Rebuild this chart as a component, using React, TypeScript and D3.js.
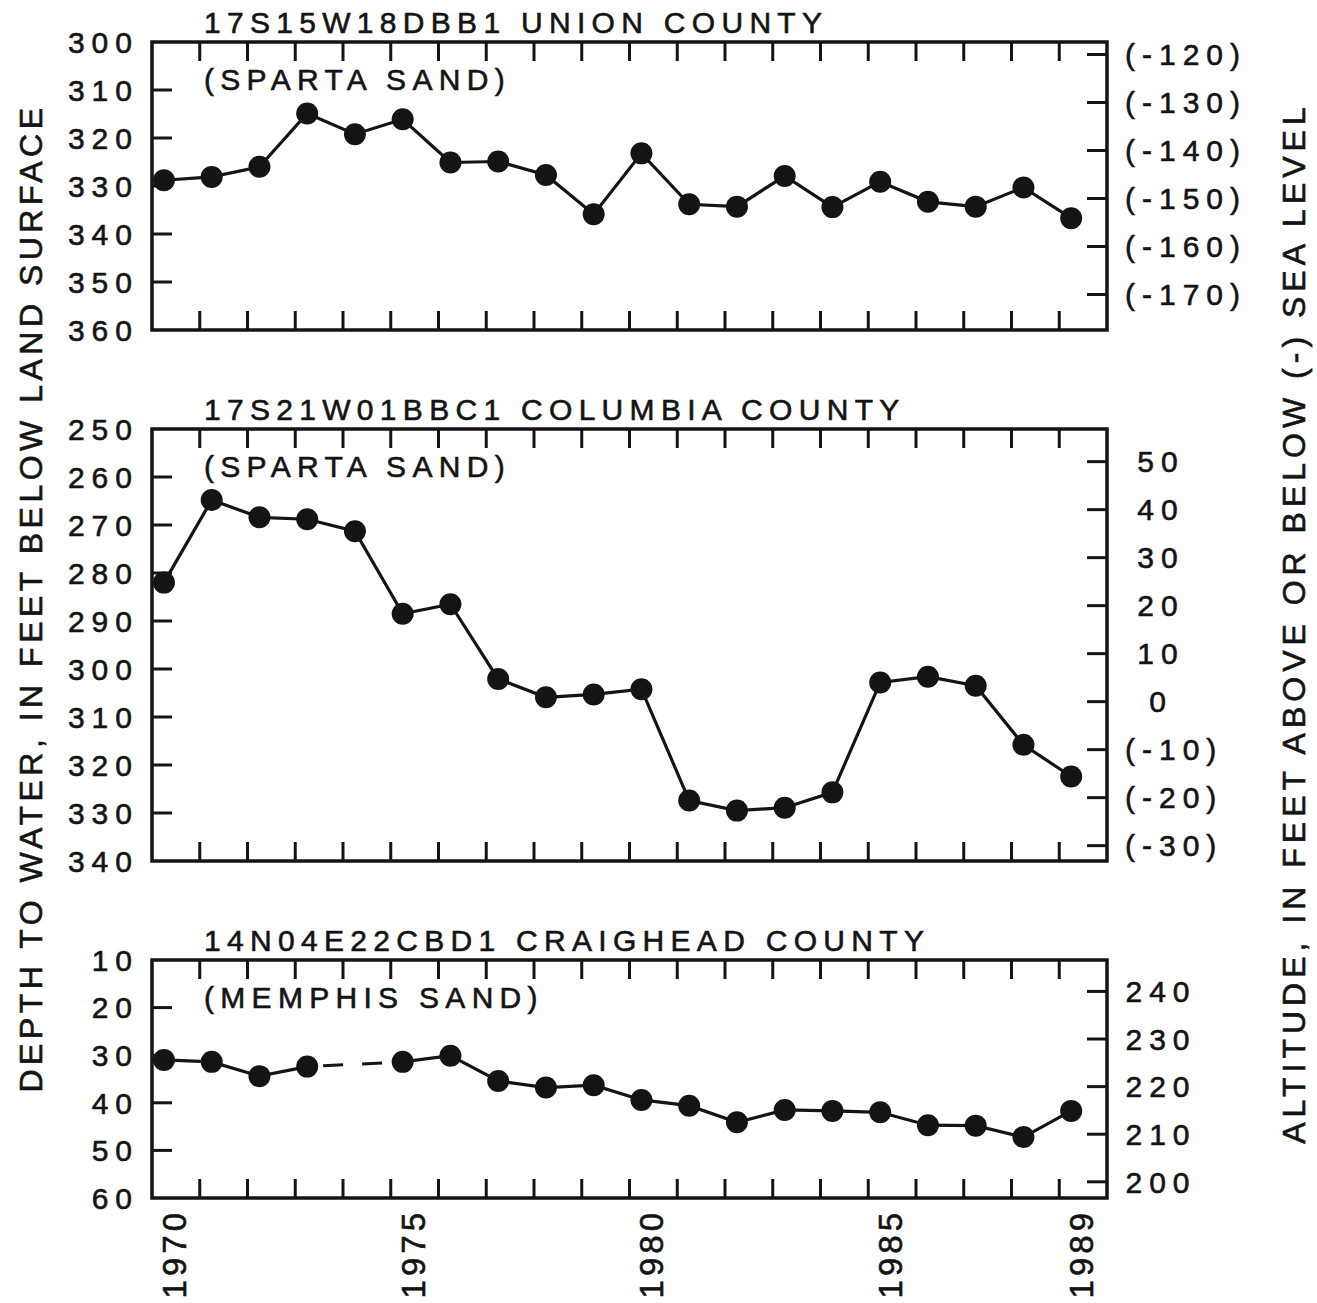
import React from 'react';
import * as d3 from 'd3';

// ---- Data ----
const years = [1970, 1971, 1972, 1973, 1974, 1975, 1976, 1977, 1978, 1979, 1980, 1981, 1982, 1983, 1984, 1985, 1986, 1987, 1988, 1989];
// measurement taken in spring of each year
const measurementOffset = 0.25;

const unionDepth = [328.8, 328.1, 326.0, 314.9, 319.2, 316.1, 325.1, 324.9, 327.7, 335.9, 323.2, 333.8, 334.3, 327.9, 334.4, 329.1, 333.3, 334.3, 330.3, 336.7];
const columbiaDepth = [282.0, 264.8, 268.4, 268.8, 271.3, 288.5, 286.5, 302.1, 305.9, 305.3, 304.2, 327.4, 329.5, 328.9, 325.7, 302.8, 301.6, 303.5, 315.8, 322.4];
const craigheadDepth: (number | null)[] = [31.0, 31.4, 34.4, 32.4, null, 31.4, 30.1, 35.4, 36.8, 36.3, 39.4, 40.6, 44.1, 41.5, 41.7, 42.0, 44.7, 44.8, 47.2, 41.7];

const wellTitles = ['17S15W18DBB1 UNION COUNTY', '17S21W01BBC1 COLUMBIA COUNTY', '14N04E22CBD1 CRAIGHEAD COUNTY'];
const aquifers = ['(SPARTA SAND)', '(SPARTA SAND)', '(MEMPHIS SAND)'];
const depthDomains = [[300, 360], [250, 340], [10, 60]];
const depthTicks = [
  [300, 310, 320, 330, 340, 350, 360],
  [250, 260, 270, 280, 290, 300, 310, 320, 330, 340],
  [10, 20, 30, 40, 50, 60],
];
const landSurfaceAltitude = [182.6, 306.8, 256.6];
const altitudeTicks = [
  [-120, -130, -140, -150, -160, -170],
  [50, 40, 30, 20, 10, 0, -10, -20, -30],
  [240, 230, 220, 210, 200],
];
const yearLabels = [1970, 1975, 1980, 1985, 1989];

const leftAxisTitle = 'DEPTH TO WATER, IN FEET BELOW LAND SURFACE';
const rightAxisTitle = 'ALTITUDE, IN FEET ABOVE OR BELOW (-) SEA LEVEL';

// ---- Layout ----
const W = 1317;
const H = 1303;
const X0 = 152;
const X1 = 1107;
const panelRows = [
  { top: 42, bottom: 330 },
  { top: 429, bottom: 861 },
  { top: 960, bottom: 1198 },
];
const FONT = '"Liberation Sans", Arial, Helvetica, sans-serif';
const INK = '#141414';
const TXT = { fill: INK, stroke: INK, strokeWidth: 0.6, fontFamily: FONT } as const;

const x = d3.scaleLinear().domain([1970, 1990]).range([X0, X1]);
const xTickYears = years.slice(1); // 1971..1989 year boundaries

function fmtAlt(v: number) {
  return v < 0 ? `(${v})` : `${v}`;
}

function Panel({ i }: { i: number }) {
  const row = panelRows[i];
  const [d0, d1] = depthDomains[i];
  const y = d3.scaleLinear().domain([d0, d1]).range([row.top, row.bottom]);
  const lsa = landSurfaceAltitude[i];
  const yAlt = d3.scaleLinear().domain([lsa - d0, lsa - d1]).range([row.top, row.bottom]);
  const series = [unionDepth, columbiaDepth, craigheadDepth][i] as (number | null)[];
  const pts = years.map((yr, k) => ({ yr, v: series[k] }));

  const line = d3
    .line<{ yr: number; v: number | null }>()
    .defined((d) => d.v !== null)
    .x((d) => x(d.yr + measurementOffset))
    .y((d) => y(d.v as number));

  // dashed connectors across missing years
  const gaps: { a: { yr: number; v: number }; b: { yr: number; v: number } }[] = [];
  let last: { yr: number; v: number } | null = null;
  let inGap = false;
  pts.forEach((p) => {
    if (p.v === null) {
      inGap = true;
    } else {
      if (inGap && last) gaps.push({ a: last, b: { yr: p.yr, v: p.v } });
      inGap = false;
      last = { yr: p.yr, v: p.v };
    }
  });

  const tickLen = 19;
  return (
    <g>
      <text x={204} y={row.top - 9} fontSize={30} letterSpacing={6.3} {...TXT}>
        {wellTitles[i]}
      </text>
      <text x={204} y={row.top + 48} fontSize={30} letterSpacing={6.3} {...TXT}>
        {aquifers[i]}
      </text>

      {/* x ticks top & bottom */}
      {xTickYears.map((yr) => (
        <g key={yr}>
          <line x1={x(yr)} x2={x(yr)} y1={row.top} y2={row.top + tickLen} stroke={INK} strokeWidth={3} />
          <line x1={x(yr)} x2={x(yr)} y1={row.bottom} y2={row.bottom - tickLen} stroke={INK} strokeWidth={3} />
        </g>
      ))}

      {/* left depth axis */}
      {depthTicks[i].map((t) => (
        <g key={t}>
          {t !== d0 && t !== d1 && (
            <line x1={X0} x2={X0 + 20} y1={y(t)} y2={y(t)} stroke={INK} strokeWidth={3} />
          )}
          <text x={139} y={y(t)} dy="0.36em" textAnchor="end" fontSize={30} letterSpacing={7} {...TXT}>
            {t}
          </text>
        </g>
      ))}

      {/* right altitude axis */}
      {altitudeTicks[i].map((t) => {
        const label = fmtAlt(t);
        const paren = label.startsWith('(');
        return (
          <g key={t}>
            <line x1={X1} x2={X1 - 20} y1={yAlt(t)} y2={yAlt(t)} stroke={INK} strokeWidth={3} />
            <text
              x={paren ? 1125 : 1161}
              y={yAlt(t)}
              dy="0.36em"
              textAnchor={paren ? 'start' : 'middle'}
              fontSize={30}
              letterSpacing={7}
              {...TXT}
            >
              {label}
            </text>
          </g>
        );
      })}

      {/* frame */}
      <rect x={X0} y={row.top} width={X1 - X0} height={row.bottom - row.top} fill="none" stroke={INK} strokeWidth={3.5} />

      {/* data */}
      {gaps.map((g, k) => (
        <line
          key={k}
          x1={x(g.a.yr + measurementOffset)}
          y1={y(g.a.v)}
          x2={x(g.b.yr + measurementOffset)}
          y2={y(g.b.v)}
          stroke={INK}
          strokeWidth={3}
          strokeDasharray="20 19"
          strokeDashoffset={23}
        />
      ))}
      <path d={line(pts) || ''} fill="none" stroke={INK} strokeWidth={3.2} />
      {pts
        .filter((p) => p.v !== null)
        .map((p) => (
          <circle key={p.yr} cx={x(p.yr + measurementOffset)} cy={y(p.v as number)} r={11} fill={INK} />
        ))}
    </g>
  );
}

export default function App() {
  return (
    <svg
      width={W}
      height={H}
      viewBox={`0 0 ${W} ${H}`}
      style={{ position: 'absolute', left: 0, top: 0, display: 'block', background: '#fff' }}
    >
      <rect x={0} y={0} width={W} height={H} fill="#fff" />
      {[0, 1, 2].map((i) => (
        <Panel key={i} i={i} />
      ))}

      {/* year labels */}
      {yearLabels.map((yr) => (
        <text
          key={yr}
          transform={`translate(${x(yr + measurementOffset) + 10},1209) rotate(-90)`}
          dy="0.36em"
          textAnchor="end"
          fontSize={33}
          letterSpacing={4}
          {...TXT}
        >
          {yr}
        </text>
      ))}

      {/* axis titles */}
      <text
        transform={`translate(30,598) rotate(-90)`}
        dy="0.36em"
        textAnchor="middle"
        fontSize={32}
        letterSpacing={4.5}
        {...TXT}
      >
        {leftAxisTitle}
      </text>
      <text
        transform={`translate(1293,623) rotate(-90)`}
        dy="0.36em"
        textAnchor="middle"
        fontSize={32}
        letterSpacing={5}
        {...TXT}
      >
        {rightAxisTitle}
      </text>
    </svg>
  );
}
